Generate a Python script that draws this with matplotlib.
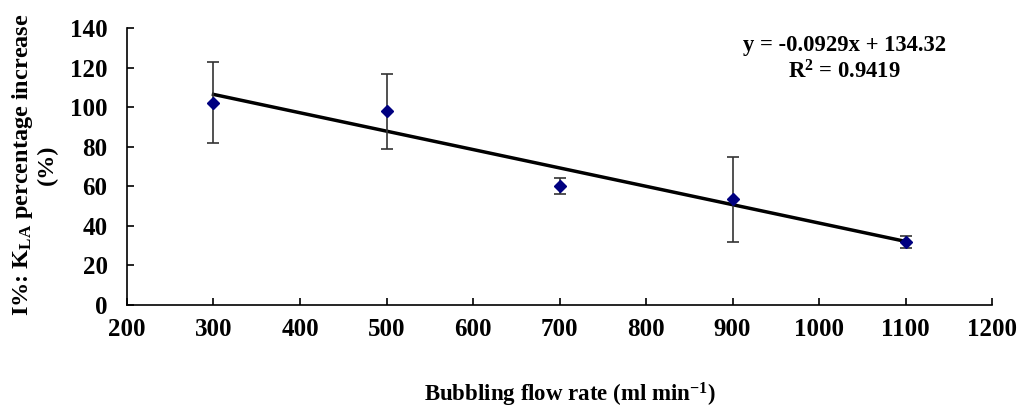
import numpy as np
import matplotlib
matplotlib.use("Agg")
import matplotlib.pyplot as plt

plt.rcParams['font.family'] = ['Liberation Serif', 'DejaVu Serif']
plt.rcParams['font.weight'] = 'bold'
plt.rcParams['mathtext.fontset'] = 'custom'
plt.rcParams['mathtext.rm'] = 'Liberation Serif:bold'
plt.rcParams['mathtext.bf'] = 'Liberation Serif:bold'
plt.rcParams['mathtext.it'] = 'Liberation Serif:bold'

# Данные: расход барботажа и прирост KLa
flow_rate = [300, 500, 700, 900, 1100]
increase = [102.3, 98.0, 60.0, 53.5, 32.0]
err = [20.5, 19.0, 4.0, 21.5, 3.0]

# Линейная регрессия (коэффициенты из уравнения)
slope = -0.0929
intercept = 134.32
r2 = 0.9419

fig = plt.figure(figsize=(10.19, 4.12), dpi=100)
ax = fig.add_axes([0.1246, 0.2597, 0.849, 0.6723])

ax.errorbar(flow_rate, increase, yerr=err, fmt='D', color='#000080',
            markersize=6, ecolor='#333333', elinewidth=1.2,
            capsize=4.5, capthick=1.2, zorder=3)

xf = np.array([flow_rate[0], flow_rate[-1]])
ax.plot(xf, slope * xf + intercept, color='black', linewidth=2.5, zorder=2)

ax.set_xlim(200, 1200)
ax.set_ylim(0, 140)
ax.set_xticks(range(200, 1201, 100))
ax.set_yticks(range(0, 141, 20))
ax.tick_params(direction='in', length=5, width=1.2, labelsize=18)
ax.tick_params(axis='y', pad=14)
ax.tick_params(axis='x', pad=9)
for lbl in ax.get_xticklabels() + ax.get_yticklabels():
    lbl.set_fontweight('bold')

ax.spines['top'].set_visible(False)
ax.spines['right'].set_visible(False)
ax.spines['left'].set_linewidth(1.2)
ax.spines['bottom'].set_linewidth(1.2)

ax.set_xlabel(r'Bubbling flow rate (ml min$^{\mathbf{-1}}$)',
              fontsize=16.5, fontweight='bold')
ax.xaxis.set_label_coords(0.512, -0.275)
ax.set_ylabel('I%: K$_{\\mathbf{LA}}$ percentage increase\n(%)',
              fontsize=17.5, fontweight='bold', linespacing=1.1)
ax.yaxis.set_label_coords(-0.08, 0.505)

ax.text(0.829, 0.975, 'y = -0.0929x + 134.32\nR$^{\\mathbf{2}}$ = 0.9419',
        transform=ax.transAxes, ha='center', va='top',
        fontsize=16.3, fontweight='bold', linespacing=1.25)

fig.savefig('out.png', dpi=100)
